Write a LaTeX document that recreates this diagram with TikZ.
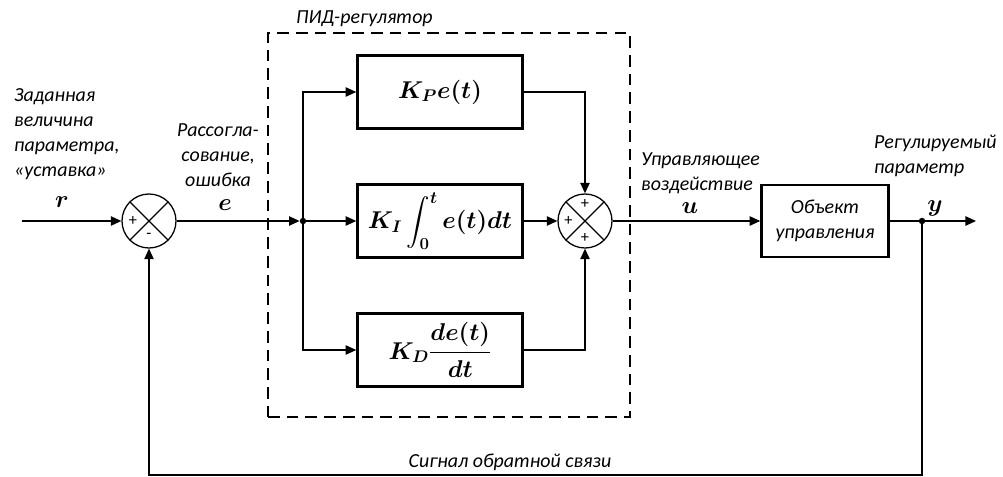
\documentclass[tikz,border=0pt]{standalone}
\usepackage{fontspec}
\setmainfont{Carlito}
\usepackage{amsmath}
\usepackage{amssymb}
\usetikzlibrary{arrows.meta,shapes,positioning,calc}

\tikzset{
	block/.style={shape=rectangle,draw=black,line width=2.2pt,minimum width=4.95cm,minimum height=2.19cm,inner sep=2pt,font=\fontsize{20}{24}\selectfont\boldmath},
	plant/.style={shape=rectangle,draw=black,line width=2.2pt,minimum width=3.81cm,minimum height=2.16cm,align=center,font=\fontsize{17}{21.3}\selectfont\itshape},
	summer/.style={shape=circle,draw=black,line width=1.1pt,minimum size=1.62cm,inner sep=0pt,
		path picture={\draw[line width=1.1pt] (path picture bounding box.north west) -- (path picture bounding box.south east)
			(path picture bounding box.north east) -- (path picture bounding box.south west);}},
	pidframe/.style={shape=rectangle,draw=black,line width=1.8pt,dash pattern=on 10pt off 6pt,minimum width=10.86cm,minimum height=11.52cm},
	dot/.style={shape=circle,fill=black,minimum size=5.5pt,inner sep=0pt},
	lbl/.style={inner sep=0pt,font=\fontsize{17}{21.3}\selectfont\itshape},
	var/.style={inner sep=0pt,font=\fontsize{20}{24}\selectfont\boldmath},
	sign/.style={inner sep=0pt,font=\fontsize{14}{14}\selectfont},
	sig/.style={-{Triangle[length=9pt,width=8pt]},line width=1.1pt},
	wire/.style={line width=1.1pt}
}

\begin{document}
\begin{tikzpicture}[x=0.03cm,y=-0.03cm]
	\useasboundingbox (0,0) rectangle (1003,477);
	\node[pidframe](PID) at (449,225) {};
	\node[lbl,anchor=west](PIDL) at (296,19) {ПИД-регулятор};
	\coordinate (IN) at (22,221);
	\node[summer](S1) at (149,221) {};
	\node[dot](BR) at (303,221) {};
	\node[block](KP) at (440,92) {$K_P e(t)$};
	\node[block](KI) at (440,221) {$K_I\displaystyle\int_0^t e(t)dt$};
	\node[block](KD) at (440,350) {$K_D\dfrac{de(t)}{dt}$};
	\node[summer](S2) at (585,221) {};
	\node[plant](OU) at (825,221) {Объект\\управления};
	\node[dot](YD) at (922,221) {};
	\coordinate (OUT) at (976,221);
	\coordinate (FB) at (922,475);
	% signs
	\node[sign] at ([xshift=-0.48cm]S1.center) {+};
	\node[sign] at ([yshift=-0.45cm]S1.center) {-};
	\node[sign] at ([yshift=0.5cm]S2.center) {+};
	\node[sign] at ([xshift=-0.5cm]S2.center) {+};
	\node[sign] at ([yshift=-0.5cm]S2.center) {+};
	% labels
	\node[lbl,anchor=west,align=left](SPL) at (14,134) {Заданная\\величина\\параметра,\\«уставка»};
	\node[lbl,align=center](ERL) at (218,155) {Рассогла-\\сование,\\ошибка};
	\node[lbl,anchor=west,align=left](UL) at (641,173) {Управляющее\\воздействие};
	\node[lbl,anchor=west,align=left](YL) at (874,156) {Регулируемый\\параметр};
	\node[lbl](FBL) at (510,462) {Сигнал обратной связи};
	\node[var](R) at (62,202) {$r$};
	\node[var](E) at (225,205) {$e$};
	\node[var](U) at (690,208) {$u$};
	\node[var](Y) at (935,208) {$y$};
	% connections
	\path[sig](IN) edge node {} (S1);
	\path[sig](S1) edge node {} (BR);
	\draw[sig](BR) |- (KP);
	\path[sig](BR) edge node {} (KI);
	\draw[sig](BR) |- (KD);
	\draw[sig](KP) -| (S2);
	\path[sig](KI) edge node {} (S2);
	\draw[sig](KD) -| (S2);
	\path[sig](S2) edge node {} (OU);
	\path[wire](OU) edge node {} (YD);
	\path[sig](YD) edge node {} (OUT);
	\draw[sig](YD) -- (FB) -| (S1);
\end{tikzpicture}
\end{document}
